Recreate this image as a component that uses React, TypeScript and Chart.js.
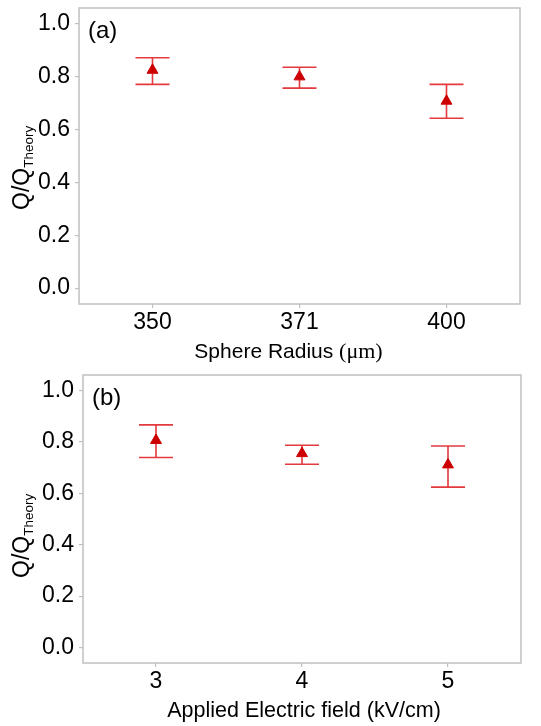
import React, { useEffect, useRef } from "react";
import { Chart, registerables } from "chart.js";

Chart.register(...registerables);

// ---- Data ----
const radiusLabels = ["350", "371", "400"];
const radiusValues = [0.825, 0.8, 0.708];
const radiusUpper = [0.872, 0.836, 0.771];
const radiusLower = [0.771, 0.757, 0.643];

const fieldLabels = ["3", "4", "5"];
const fieldValues = [0.806, 0.755, 0.711];
const fieldUpper = [0.866, 0.787, 0.784];
const fieldLower = [0.739, 0.713, 0.624];

const yTickValues = [0.0, 0.2, 0.4, 0.6, 0.8, 1.0];

const SANS = "'Liberation Sans', Arial, sans-serif";
const SERIF = "'Liberation Serif', 'Times New Roman', serif";
const FRAME = "#c0c0c0";
const MARKER = "#cc0000";
const ERR = "#e4393e";

type Seg = { text: string; font: string };

interface PanelCfg {
  labels: string[];
  values: number[];
  upper: number[];
  lower: number[];
  panel: string;
  xTitle: Seg[];
  xTitleDx: number;
  padTop: number;
  padRight: number;
  yWidth: number;
  xHeight: number;
  yTitleStart: number;
}

function makeChart(canvas: HTMLCanvasElement, cfg: PanelCfg) {
  const custom = {
    id: "custom",
    beforeDatasetsDraw(chart: any) {
      const ctx = chart.ctx;
      const xs = chart.scales.x;
      const ys = chart.scales.y;
      ctx.save();
      ctx.strokeStyle = ERR;
      ctx.lineWidth = 1.6;
      const cap = 17;
      cfg.values.forEach((_, i) => {
        const x = xs.getPixelForValue(i);
        const yt = ys.getPixelForValue(cfg.upper[i]);
        const yb = ys.getPixelForValue(cfg.lower[i]);
        ctx.beginPath();
        ctx.moveTo(x, yt);
        ctx.lineTo(x, yb);
        ctx.moveTo(x - cap, yt);
        ctx.lineTo(x + cap, yt);
        ctx.moveTo(x - cap, yb);
        ctx.lineTo(x + cap, yb);
        ctx.stroke();
      });
      ctx.restore();
    },
    afterDraw(chart: any) {
      const ctx = chart.ctx;
      const a = chart.chartArea;
      ctx.save();
      // frame
      ctx.strokeStyle = FRAME;
      ctx.lineWidth = 1.5;
      ctx.strokeRect(a.left, a.top, a.right - a.left, a.bottom - a.top);
      // panel label
      ctx.fillStyle = "#000";
      ctx.font = `24px ${SANS}`;
      ctx.textBaseline = "alphabetic";
      ctx.textAlign = "left";
      ctx.fillText(cfg.panel, a.left + 9, a.top + 30);
      // x title
      let total = 0;
      cfg.xTitle.forEach((s) => {
        ctx.font = s.font;
        total += ctx.measureText(s.text).width;
      });
      let x = (a.left + a.right) / 2 - total / 2 + cfg.xTitleDx;
      ctx.textBaseline = "middle";
      cfg.xTitle.forEach((s) => {
        ctx.font = s.font;
        ctx.fillText(s.text, x, a.bottom + 48);
        x += ctx.measureText(s.text).width;
      });
      // y title
      ctx.translate(29, cfg.yTitleStart);
      ctx.rotate(-Math.PI / 2);
      ctx.textBaseline = "alphabetic";
      ctx.font = `23px ${SANS}`;
      ctx.fillText("Q/Q", 0, 0);
      const w = ctx.measureText("Q/Q").width;
      ctx.font = `13.5px ${SANS}`;
      ctx.fillText("Theory", w, 3.5);
      ctx.restore();
    },
  };

  return new Chart(canvas, {
    type: "line",
    data: {
      labels: cfg.labels,
      datasets: [
        {
          data: cfg.values,
          showLine: false,
          pointStyle: "triangle",
          pointRadius: 6.3,
          pointBackgroundColor: MARKER,
          pointBorderColor: MARKER,
          pointBorderWidth: 1,
        },
      ],
    },
    options: {
      animation: false,
      responsive: false,
      maintainAspectRatio: false,
      layout: { padding: { top: cfg.padTop, right: cfg.padRight, left: 0, bottom: 0 } },
      plugins: { legend: { display: false }, tooltip: { enabled: false } },
      scales: {
        x: {
          type: "category",
          offset: true,
          grid: {
            display: true,
            drawOnChartArea: false,
            drawTicks: true,
            tickLength: 4,
            color: FRAME,
            lineWidth: 1.2,
          },
          border: { display: false },
          ticks: { color: "#000", font: { family: SANS, size: 23 }, padding: 1 },
          afterFit(scale: any) {
            scale.height = cfg.xHeight;
            scale.paddingLeft = 0;
            scale.paddingRight = 0;
            scale.paddingTop = 0;
            scale.paddingBottom = 0;
          },
        },
        y: {
          type: "linear",
          min: -0.06,
          max: 1.06,
          grid: {
            display: true,
            drawOnChartArea: false,
            drawTicks: true,
            tickLength: 4,
            color: FRAME,
            lineWidth: 1.2,
          },
          border: { display: false },
          afterBuildTicks(scale: any) {
            scale.ticks = yTickValues.map((v) => ({ value: v }));
          },
          ticks: {
            color: "#000",
            font: { family: SANS, size: 23 },
            padding: 5,
            callback: (v: any) => Number(v).toFixed(1),
          },
          afterFit(scale: any) {
            scale.width = cfg.yWidth;
            scale.paddingLeft = 0;
            scale.paddingRight = 0;
            scale.paddingTop = 0;
            scale.paddingBottom = 0;
          },
        },
      },
    } as any,
    plugins: [custom],
  });
}

function Panel({ cfg, top }: { cfg: PanelCfg; top: number }) {
  const ref = useRef<HTMLCanvasElement | null>(null);
  useEffect(() => {
    if (!ref.current) return;
    const c = makeChart(ref.current, cfg);
    return () => c.destroy();
  }, []);
  return (
    <div style={{ position: "absolute", left: 0, top, width: 541, height: 363 }}>
      <canvas ref={ref} width={541} height={363} style={{ display: "block", width: 541, height: 363 }} />
    </div>
  );
}

const panelA: PanelCfg = {
  labels: radiusLabels,
  values: radiusValues,
  upper: radiusUpper,
  lower: radiusLower,
  panel: "(a)",
  xTitle: [
    { text: "Sphere Radius ", font: `21px ${SANS}` },
    { text: "(\u03bcm)", font: `22px ${SERIF}` },
  ],
  xTitleDx: -11,
  padTop: 8,
  padRight: 21,
  yWidth: 79,
  xHeight: 59,
  yTitleStart: 210,
};

const panelB: PanelCfg = {
  labels: fieldLabels,
  values: fieldValues,
  upper: fieldUpper,
  lower: fieldLower,
  panel: "(b)",
  xTitle: [{ text: "Applied Electric field (kV/cm)", font: `21.5px ${SANS}` }],
  xTitleDx: 2,
  padTop: 12,
  padRight: 20,
  yWidth: 83,
  xHeight: 63,
  yTitleStart: 215,
};

export default function App() {
  return (
    <div style={{ position: "fixed", left: 0, top: 0, width: 541, height: 726, background: "#fff" }}>
      <Panel cfg={panelA} top={0} />
      <Panel cfg={panelB} top={363} />
    </div>
  );
}
